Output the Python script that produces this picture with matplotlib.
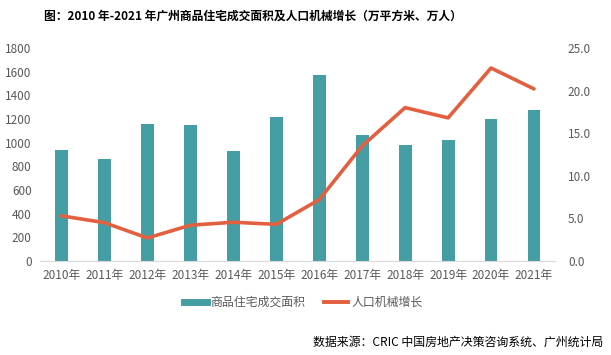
import matplotlib.pyplot as plt
from matplotlib.lines import Line2D

plt.rcParams['font.family'] = ['Noto Sans CJK SC', 'DejaVu Sans']

years = ['2010年', '2011年', '2012年', '2013年', '2014年', '2015年',
         '2016年', '2017年', '2018年', '2019年', '2020年', '2021年']
# 商品住宅成交面积 (万平方米)
area = [938, 862, 1158, 1149, 930, 1217, 1572, 1065, 980, 1023, 1200, 1276]
# 人口机械增长 (万人)
pop_growth = [5.3, 4.5, 2.7, 4.2, 4.55, 4.3, 7.2, 13.5, 18.0, 16.8, 22.65, 20.2]

bar_color = '#459ea4'
line_color = '#e2603f'
tick_color = '#595959'

fig = plt.figure(figsize=(6.11, 3.55), dpi=100)
ax = fig.add_axes([0.0655, 0.2648, 0.8436, 0.6])
ax2 = ax.twinx()

x = list(range(len(years)))
ax.bar(x, area, width=0.3, color=bar_color, zorder=2)
ax2.plot(x, pop_growth, color=line_color, lw=2.6, solid_capstyle='round', zorder=3)

ax.set_xlim(-0.5, len(years) - 0.5)
ax.set_ylim(0, 1800)
ax.set_yticks(range(0, 1801, 200))
ax2.set_ylim(0, 25)
ax2.set_yticks([0, 5, 10, 15, 20, 25])
ax2.set_yticklabels(['%.1f' % v for v in [0, 5, 10, 15, 20, 25]])
ax.set_xticks(x)
ax.set_xticklabels(years)

for a in (ax, ax2):
    for s in a.spines.values():
        s.set_visible(False)
    a.tick_params(length=0, colors=tick_color, labelsize=8.5)
ax.spines['bottom'].set_visible(True)
ax.spines['bottom'].set_color('#d9d9d9')
ax.tick_params(axis='x', pad=6)
ax.tick_params(axis='y', pad=6)
ax2.tick_params(axis='y', pad=9)

fig.text(0.414, 0.955, '图：2010 年-2021 年广州商品住宅成交面积及人口机械增长（万平方米、万人）',
         ha='center', va='center', fontsize=8.5, fontweight='bold')

handles = [Line2D([0], [0], color=bar_color, lw=5),
           Line2D([0], [0], color=line_color, lw=2.8)]
fig.legend(handles, ['商品住宅成交面积', '人口机械增长'], loc='center',
           bbox_to_anchor=(0.496, 0.148), ncol=2, frameon=False,
           fontsize=8.6, handlelength=2.0, handletextpad=0.25, columnspacing=1.6,
           labelcolor=tick_color)

fig.text(0.987, 0.037, '数据来源：CRIC 中国房地产决策咨询系统、广州统计局',
         ha='right', va='center', fontsize=8.6)

fig.savefig('out.png', dpi=100)
